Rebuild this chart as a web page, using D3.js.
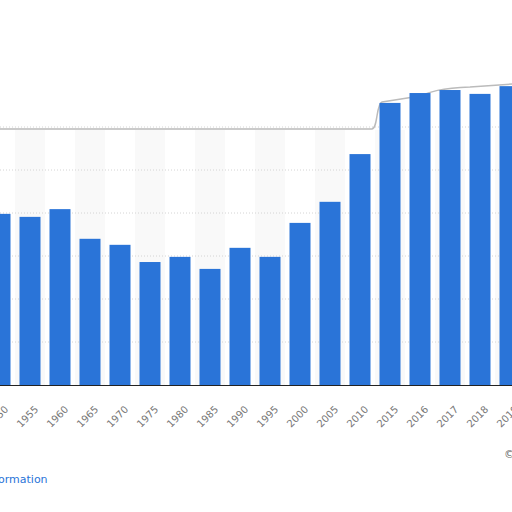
<!DOCTYPE html><html><head><script src="https://d3js.org/d3.v7.min.js"></script>
<style>body{margin:0;background:#fff}</style></head><body><svg id="c" width="512" height="512"></svg><script>
const years=["1950","1955","1960","1965","1970","1975","1980","1985","1990","1995","2000","2005","2010","2015","2016","2017","2018","2019"];
const values=[3.98,3.91,4.09,3.40,3.26,2.86,2.98,2.70,3.19,2.98,3.77,4.26,5.37,6.56,6.79,6.86,6.77,6.95];
const gridTicks=[1,2,3,4,5,6];
const svg=d3.select("#c");
const x=d3.scaleBand().domain(years).range([-15,525]).paddingInner(0.3).paddingOuter(0.15);
const y=d3.scaleLinear().domain([0,9]).range([385,-2]);
svg.selectAll(".bg").data(years).enter().append("rect").attr("x",d=>x(d)-x.step()*x.paddingInner()/2).attr("width",x.step())
 .attr("y",130).attr("height",255).attr("fill",(d,i)=>i%2?"#f9f9f9":"#ffffff");
svg.selectAll(".g").data(gridTicks).enter().append("line").attr("x1",0).attr("x2",512).attr("y1",d=>y(d)).attr("y2",d=>y(d))
 .attr("stroke","#d4d4d4").attr("stroke-dasharray","1,2");
svg.append("path").attr("d","M0,129 L372,129 C378,128 376,104 382,102 L420,96 C430,92 440,88 470,87 L512,84")
 .attr("fill","none").attr("stroke","#bbb").attr("stroke-width",1.5);
svg.selectAll(".b").data(values).enter().append("rect").attr("x",(d,i)=>x(years[i])).attr("width",x.bandwidth())
 .attr("y",d=>y(d)).attr("height",d=>y(0)-y(d)).attr("fill","#2a74d8");
svg.append("line").attr("x1",0).attr("x2",512).attr("y1",385.5).attr("y2",385.5).attr("stroke","#222");
const ax=svg.append("g").attr("transform","translate(0,386)").call(d3.axisBottom(x).tickSize(0).tickPadding(0));
ax.select(".domain").remove();
ax.selectAll("text").attr("text-anchor","end").attr("dy",0).attr("transform","translate(9,24) rotate(-45)")
 .attr("fill","#777").style("font","10px 'DejaVu Sans'");
svg.append("text").attr("x",-2).attr("y",483).text("ormation").attr("fill","#2a74d8").style("font","11px 'DejaVu Sans'");
svg.append("text").attr("x",504).attr("y",458).text("©").attr("fill","#666").style("font","11px 'DejaVu Sans'");
</script></body></html>
